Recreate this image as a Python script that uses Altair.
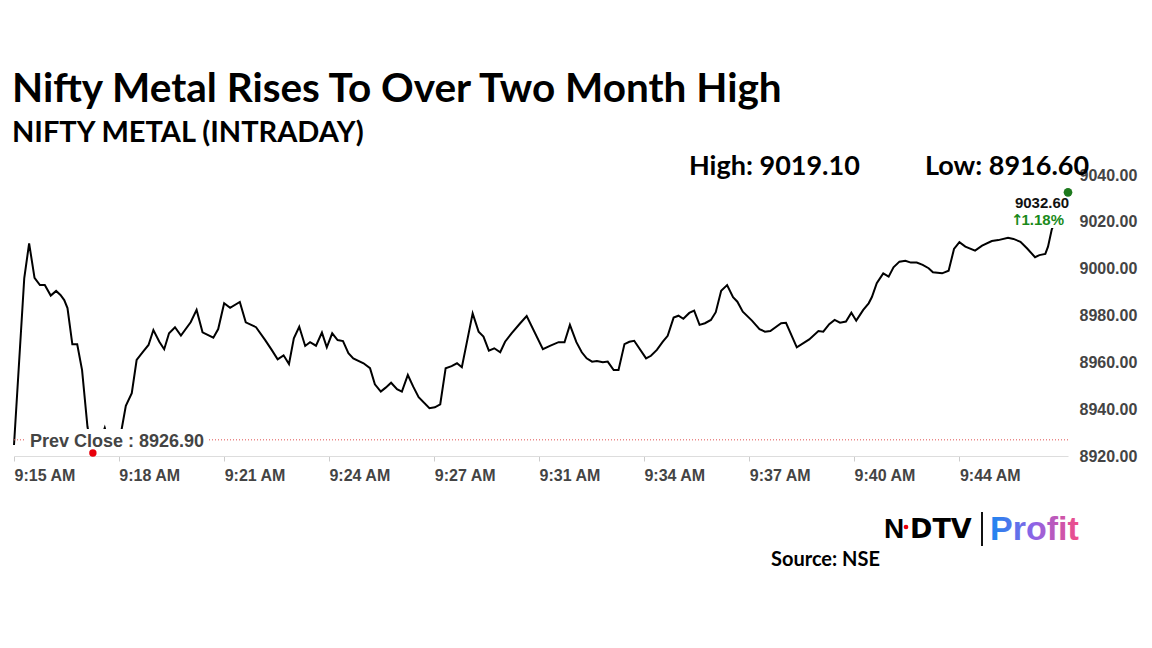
import json
import altair as alt
import pandas as pd

# ---------------- data ----------------
secs = [0, 19, 28, 38, 48, 57, 68, 78, 86, 93, 99, 108, 117, 126, 136, 146, 157, 168, 178, 189,
        199, 207, 218, 227, 239, 249, 258, 269, 278, 287, 298, 309, 327, 338, 349, 369, 378, 389, 400, 418,
        429, 448, 465, 477, 488, 499, 509, 518, 528, 539, 548, 559, 570, 579, 589, 599, 609, 619, 628, 647,
        659, 668, 679, 688, 698, 709, 718, 729, 739, 749, 769, 779, 789, 799, 810, 820, 829, 849, 860, 869,
        879, 889, 900, 909, 921, 937, 949, 979, 992, 1008, 1019, 1029, 1041, 1051, 1060, 1070, 1079, 1090, 1099, 1110,
        1119, 1130, 1139, 1148, 1170, 1179, 1190, 1201, 1210, 1221, 1230, 1239, 1250, 1259, 1269, 1279, 1290, 1299, 1309, 1320,
        1331, 1339, 1349, 1366, 1380, 1390, 1400, 1420, 1429, 1449, 1472, 1489, 1498, 1509, 1519, 1529, 1540, 1550, 1559, 1572,
        1582, 1588, 1597, 1609, 1619, 1628, 1639, 1650, 1660, 1671, 1682, 1693, 1701, 1718, 1730, 1740, 1750, 1761, 1779, 1792,
        1810, 1822, 1840, 1850, 1863, 1875, 1890, 1898, 1909, 1914, 1921, 1951]

values = [8924.7, 8996.0, 9010.8, 8996.1, 8993.0, 8993.0, 8988.5, 8990.5, 8988.8, 8986.6,
          8983.2, 8967.7, 8967.7, 8956.7, 8932.5, 8921.3, 8924.7, 8932.0, 8923.9, 8925.1,
          8931.1, 8941.4, 8946.8, 8961.0, 8964.6, 8967.4, 8973.8, 8968.8, 8965.6, 8972.4,
          8975.0, 8971.4, 8977.1, 8982.4, 8972.8, 8970.5, 8974.2, 8985.2, 8983.3, 8985.8,
          8977.1, 8975.0, 8969.5, 8965.3, 8961.3, 8963.0, 8959.3, 8970.3, 8975.2, 8967.0,
          8968.6, 8967.1, 8972.7, 8966.4, 8972.4, 8969.5, 8969.1, 8963.9, 8961.7, 8959.6,
          8957.5, 8950.6, 8947.5, 8949.2, 8951.3, 8948.5, 8947.5, 8954.6, 8949.6, 8945.1,
          8940.4, 8940.8, 8942.1, 8957.5, 8958.4, 8959.6, 8957.9, 8980.9, 8973.1, 8971.0,
          8965.0, 8966.0, 8964.3, 8968.8, 8972.4, 8976.7, 8979.8, 8965.6, 8967.0, 8968.6,
          8968.6, 8976.0, 8968.6, 8964.3, 8961.7, 8960.3, 8960.6, 8960.0, 8960.3, 8956.7,
          8956.7, 8967.8, 8968.8, 8969.2, 8961.7, 8962.8, 8965.3, 8968.8, 8971.3, 8979.1,
          8979.9, 8978.6, 8981.1, 8982.1, 8976.0, 8976.7, 8978.1, 8981.4, 8990.6, 8993.0,
          8987.8, 8985.9, 8981.6, 8977.8, 8974.2, 8973.1, 8973.4, 8976.7, 8976.9, 8966.4,
          8969.8, 8973.4, 8973.1, 8976.3, 8978.1, 8976.9, 8977.4, 8981.2, 8977.8, 8982.4,
          8985.2, 8987.9, 8993.8, 8998.0, 8996.6, 9000.6, 9003.0, 9003.4, 9002.6, 9002.6,
          9001.6, 9000.2, 8998.5, 8998.0, 8999.1, 9008.4, 9011.3, 9009.4, 9007.7, 9009.8,
          9011.8, 9012.2, 9013.2, 9012.7, 9011.5, 9008.7, 9004.9, 9005.8, 9006.3, 9009.4,
          9016.8, 9032.6]

tick_secs = [0, 194, 389, 583, 778, 972, 1166, 1361, 1555, 1750]
tick_labels = ["9:15 AM", "9:18 AM", "9:21 AM", "9:24 AM", "9:27 AM",
               "9:31 AM", "9:34 AM", "9:37 AM", "9:40 AM", "9:44 AM"]
y_ticks = [8920, 8940, 8960, 8980, 9000, 9020, 9040]

prev_close = 8926.90
day_high = 9019.10
day_low = 8916.60
last_price = 9032.60
change_pct = 1.18

title_text = "Nifty Metal Rises To Over Two Month High"
subtitle_text = "NIFTY METAL (INTRADAY)"
source_text = "Source: NSE"

# ---------------- chart ----------------
df = pd.DataFrame({"sec": secs, "value": values})
low_df = df.loc[[df["value"].idxmin()]]
last_df = df.iloc[[-1]]

W, H = 1054, 281
AXIS_FONT = "Liberation Sans"
TITLE_FONT = "Lato"

x_scale = alt.Scale(domain=[min(secs), max(secs)], nice=False, zero=False)
y_scale = alt.Scale(domain=[min(y_ticks), max(y_ticks)], nice=False, zero=False)

label_expr = f"{json.dumps(tick_labels)}[indexof({json.dumps(tick_secs)}, datum.value)]"

x_axis = alt.Axis(values=tick_secs, labelExpr=label_expr, labelAlign="left",
                  labelFont=AXIS_FONT, labelFontSize=16, labelFontWeight="bold", labelColor="#444",
                  tickColor="#ccc", tickSize=5, domainColor="#ddd", labelPadding=6,
                  grid=False, title=None, labelOverlap=False, labelBound=False, labelFlush=False)
y_axis = alt.Axis(orient="right", values=y_ticks, format=".2f", labelFont=AXIS_FONT,
                  labelFontSize=16, labelFontWeight="bold", labelColor="#444", ticks=False,
                  domain=False, grid=False, title=None, labelPadding=11, labelBaseline="middle")

line = alt.Chart(df).mark_line(color="#000", strokeWidth=2).encode(
    x=alt.X("sec:Q", scale=x_scale, axis=x_axis),
    y=alt.Y("value:Q", scale=y_scale, axis=y_axis),
)

one = alt.Data(values=[{}])

prev_rule = alt.Chart(one).mark_rule(color="#e05050", strokeDash=[1, 2], strokeWidth=1).encode(
    y=alt.datum(prev_close, scale=y_scale)
)


def box(x1, x2, y1, y2):
    return alt.Chart(one).mark_rect(color="white").encode(
        x=alt.value(x1), x2=alt.value(x2), y=alt.value(y1), y2=alt.value(y2))


def txt(s, x, y, size, color="#000", font=TITLE_FONT, align="left", baseline="alphabetic", weight="bold"):
    return alt.Chart(one).mark_text(text=s, align=align, baseline=baseline, font=font,
                                    fontSize=size, fontWeight=weight, color=color).encode(
        x=alt.value(x), y=alt.value(y))


prev_box = box(12, 194, 254, 277)
prev_label = txt(f"Prev Close : {prev_close:.2f}", 16, 267, 18, color="#444", font=AXIS_FONT,
                 baseline="middle")

low_dot = alt.Chart(low_df).mark_circle(color="#e8000b", opacity=1, size=55).encode(
    x=alt.X("sec:Q", scale=x_scale), y=alt.Y("value:Q", scale=y_scale))

last_box = box(994, 1054, 20, 53)
last_label = txt(f"{last_price:.2f}", 1028, 33, 15, color="#111", font=AXIS_FONT, align="center")
chg_arrow = txt("\u2191", 997, 50, 15, color="#1a8a1a", font="DejaVu Sans")
chg_label = txt(f"{change_pct:.2f}%", 1050, 50, 15, color="#1a8a1a", font=AXIS_FONT, align="right")
last_dot = alt.Chart(last_df).mark_circle(color="#1e7a1e", opacity=1, size=75).encode(
    x=alt.X("sec:Q", scale=x_scale), y=alt.Y("value:Q", scale=y_scale))

title = txt(title_text, -2, -73, 40.5)
subtitle = txt(subtitle_text, -2, -33, 29)
high_t = txt(f"High: {day_high:.2f}", 675, 0, 27)
low_t = txt(f"Low: {day_low:.2f}", 911, 0, 27)
source = txt(source_text, 757, 391, 20)

logo_n = txt("N", 870, 363, 28, font="Liberation Sans")
logo_dtv = txt("DTV", 896, 363, 27, font="DejaVu Sans")
logo_dot = alt.Chart(one).mark_circle(color="#e8000b", opacity=1, size=22).encode(
    x=alt.value(892), y=alt.value(352))
logo_bar = alt.Chart(one).mark_rule(color="#111", strokeWidth=2).encode(
    x=alt.value(968), y=alt.value(337), y2=alt.value(371))
profit_grad = alt.Gradient(gradient="linear", x1=0, x2=1, y1=0, y2=0,
                           stops=[alt.GradientStop(color="#1a86f0", offset=0),
                                  alt.GradientStop(color="#8f63e6", offset=0.5),
                                  alt.GradientStop(color="#f24d86", offset=1)])
profit = alt.Chart(one).mark_text(text="Profit", align="left", baseline="alphabetic",
                                  font="Liberation Sans", fontSize=34, fontWeight="bold",
                                  color=profit_grad).encode(x=alt.value(976), y=alt.value(365))

chart = alt.layer(
    line, prev_rule, prev_box, prev_label, low_dot,
    last_box, last_label, chg_arrow, chg_label, last_dot,
    title, subtitle, high_t, low_t, source,
    logo_n, logo_dtv, logo_dot, logo_bar, profit,
).properties(
    width=W, height=H,
    autosize=alt.AutoSizeParams(type="none"),
    padding={"left": 6, "top": 167, "right": 76, "bottom": 180},
    background="white",
).configure_view(stroke=None)

chart.save("out.html", embed_options={"renderer": "svg", "actions": False})
